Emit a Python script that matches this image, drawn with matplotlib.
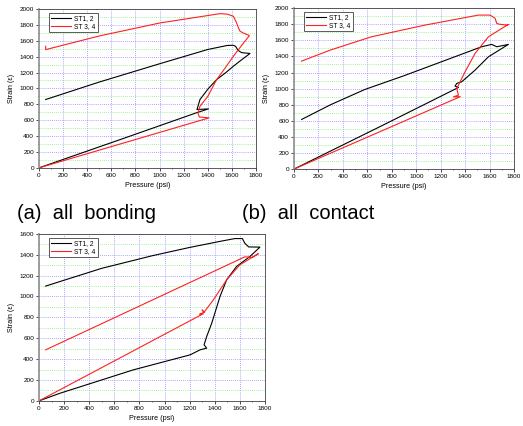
import numpy as np
import matplotlib.pyplot as plt
from matplotlib.ticker import MultipleLocator

plt.rcParams['font.family'] = ['Liberation Sans', 'DejaVu Sans']

# (a) all bonding
a_st12_p = [0, 700, 1300, 1405, 1310, 1335, 1400, 1473, 1550, 1612, 1680, 1750,
            1680, 1650, 1630, 1610, 1560, 1400, 1000, 500, 55]
a_st12_s = [0, 370, 690, 742, 734, 860, 990, 1111, 1200, 1279, 1360, 1440,
            1450, 1480, 1530, 1543, 1540, 1490, 1310, 1080, 860]
a_st34_p = [0, 700, 1410, 1330, 1318, 1335, 1400, 1473, 1550, 1612, 1680, 1745,
            1690, 1667, 1655, 1634, 1612, 1560, 1501, 1200, 1004, 500, 55, 55]
a_st34_s = [0, 312, 629, 640, 690, 776, 900, 1111, 1270, 1405, 1540, 1665,
            1700, 1720, 1760, 1840, 1908, 1935, 1941, 1870, 1824, 1660, 1488, 1530]

# (b) all contact
b_st12_p = [0, 700, 1345, 1317, 1331, 1372, 1481, 1590, 1753, 1699, 1658, 1617,
            1535, 1200, 900, 581, 300, 63]
b_st12_s = [0, 525, 1014, 1031, 1064, 1085, 1230, 1395, 1549, 1532, 1520, 1549,
            1520, 1330, 1160, 990, 800, 617]
b_st34_p = [0, 700, 1360, 1304, 1345, 1331, 1345, 1399, 1481, 1590, 1699, 1753,
            1740, 1680, 1658, 1645, 1604, 1508, 1072, 635, 300, 63]
b_st34_s = [0, 463, 900, 898, 919, 1002, 1043, 1209, 1437, 1644, 1747, 1797,
            1789, 1800, 1810, 1872, 1913, 1913, 1789, 1644, 1480, 1342]

# (c)
c_st12_p = [0, 167, 751, 1204, 1283, 1336, 1315, 1336, 1376, 1442, 1495, 1574,
            1681, 1760, 1670, 1640, 1620, 1560, 1450, 1200, 900, 500, 53]
c_st12_s = [0, 73, 297, 441, 489, 505, 537, 617, 744, 1000, 1160, 1288,
            1384, 1473, 1475, 1510, 1555, 1555, 1530, 1470, 1390, 1270, 1100]
c_st34_p = [0, 1309, 1280, 1315, 1300, 1315, 1389, 1495, 1601, 1747, 1700,
            1640, 53]
c_st34_s = [0, 835, 830, 849, 870, 849, 968, 1160, 1304, 1410, 1375,
            1380, 489]

fig = plt.figure(figsize=(5.23, 4.26), dpi=100)

panels = [
    ([0.0746, 0.606, 0.415, 0.373], 2000, a_st12_p, a_st12_s, a_st34_p, a_st34_s),
    ([0.562, 0.603, 0.421, 0.378], 2000, b_st12_p, b_st12_s, b_st34_p, b_st34_s),
    ([0.0746, 0.059, 0.432, 0.392], 1600, c_st12_p, c_st12_s, c_st34_p, c_st34_s),
]

for rect, ytop, p1, s1, p2, s2 in panels:
    ax = fig.add_axes(rect)
    ax.plot(p1, s1, color='black', lw=0.8, label='ST1, 2')
    ax.plot(p2, s2, color='#ff2020', lw=0.8, label='ST 3, 4')
    ax.set_xlim(0, 1800)
    ax.set_ylim(0, ytop)
    ax.xaxis.set_major_locator(MultipleLocator(200))
    ax.xaxis.set_minor_locator(MultipleLocator(100))
    ax.yaxis.set_major_locator(MultipleLocator(200))
    ax.yaxis.set_minor_locator(MultipleLocator(100))
    ax.grid(which='major', color='#8c8cff', ls=(0, (1, 1.5)), lw=0.6)
    ax.grid(which='minor', axis='y', color='#7ff07f', ls=(0, (1, 1.5)), lw=0.6)
    ax.set_axisbelow(True)
    ax.tick_params(which='major', labelsize=4.6, length=2, width=0.5, pad=1.5)
    ax.tick_params(which='minor', length=1, width=0.4)
    for sp in ax.spines.values():
        sp.set_linewidth(0.6)
        sp.set_color('#404040')
    ax.spines['left'].set_linewidth(1.2)
    ax.spines['left'].set_color('#909090')
    ax.set_xlabel('Pressure (psi)', fontsize=5.2, labelpad=3)
    ax.set_ylabel('Strain (\u03b5)', fontsize=5.2, labelpad=3)
    ax.legend(loc='upper left', bbox_to_anchor=(0.03, 0.995), fontsize=4.8,
              frameon=True, fancybox=False, edgecolor='#404040', framealpha=1,
              handlelength=3, borderpad=0.3, labelspacing=0.15,
              handletextpad=0.5).get_frame().set_linewidth(0.6)

fig.text(17 / 523, 1 - 219 / 426, '(a)  all  bonding', fontsize=14.5, va='baseline')
fig.text(242 / 523, 1 - 219 / 426, '(b)  all  contact', fontsize=14.5, va='baseline')

fig.savefig('out.png', dpi=100)
